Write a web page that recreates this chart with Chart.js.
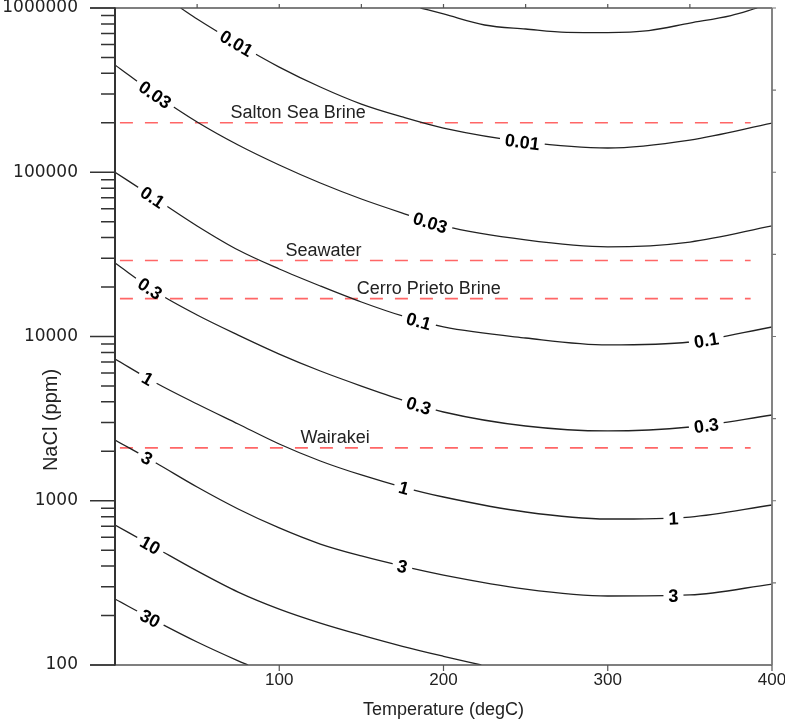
<!DOCTYPE html>
<html><head><meta charset="utf-8">
<script src="https://cdn.jsdelivr.net/npm/chart.js@4.4.1/dist/chart.umd.min.js"></script>
<style>html,body{margin:0;padding:0;background:#fff;overflow:hidden;}</style>
</head><body>
<canvas id="c" width="785" height="721" style="display:block;width:785px;height:721px"></canvas>
<script>
// ---- data ----
const temps = [0, 25, 50, 75, 100, 125, 150, 175, 200, 250, 300, 350, 400];
const temps0003 = [186, 200, 225, 250, 275, 300, 325, 350, 375, 391];
const nacl0003 = [1000000, 920000, 788000, 745000, 711000, 709000, 729000, 810000, 900000, 1000000];
const temps001 = [40, 50, 75, 100, 125, 150, 175, 200, 250, 300, 350, 400];
const nacl001 = [1000000, 857000, 604000, 437000, 330400, 260000, 217000, 185900, 153000, 140500, 157000, 199000];
const nacl003 = [450000, 295300, 202300, 146500, 110700, 86000, 68740, 56470, 47100, 38700, 35100, 37600, 47100];
const nacl01 = [100000, 68740, 47100, 33600, 25760, 20300, 16220, 13330, 11430, 9792, 8880, 9260, 11430];
const nacl03 = [28000, 18660, 13520, 10200, 7820, 6166, 4995, 4105, 3470, 2851, 2660, 2812, 3327];
const nacl1 = [7295, 5212, 3882, 2933, 2216, 1746, 1435, 1212, 1054, 854, 774, 796, 942];
const nacl3 = [2344, 1697, 1212, 891, 683, 545, 461, 400, 353, 290, 263, 267, 311];
const temps10 = [0, 25, 50, 75, 100, 125, 150, 175, 200, 223];
const nacl10 = [712, 516, 374, 278, 219, 180, 152, 130, 113, 100];
const temps30 = [0, 25, 50, 75, 81];
const nacl30 = [252, 185, 138, 106, 100];

// contour label positions (temperature along each curve)
const labelT001 = [74, 248];
const labelT003 = [24.5, 192];
const labelT01 = [23, 185, 360];
const labelT03 = [21.5, 185, 360];
const labelT1 = [20, 176, 340];
const labelT3 = [19.5, 175, 340];
const labelT10 = [21.5];
const labelT30 = [21.5];

// reference salinities (dashed lines)
const refNames = ['Salton Sea Brine', 'Seawater', 'Cerro Prieto Brine', 'Wairakei'];
const refValues = [200000, 29000, 17000, 2100];
const refLabelT = [111.5, 127, 191, 134];
const refLineT = [3, 387];

// axis ticks
const xTickValues = [100, 200, 300, 400];
const xTickLabels = ['100', '200', '300', '400'];
const yTickValues = [100, 1000, 10000, 100000, 1000000];
const yTickLabels = ['100', '1000', '10000', '100000', '1000000'];
const xTitle = 'Temperature (degC)';
const yTitle = 'NaCl (ppm)';

// ---- build datasets ----
const pts = (ts, vs) => ts.map((t, i) => ({ x: t, y: vs[i] }));
function contour(label, ts, vs, lt) {
  return {
    label, data: pts(ts, vs), labelTemps: lt, isContour: true,
    borderColor: '#222', borderWidth: 1.3, pointRadius: 0,
    cubicInterpolationMode: 'monotone', fill: false
  };
}
const datasets = [
  contour('0.003', temps0003, nacl0003, []),
  contour('0.01', temps001, nacl001, labelT001),
  contour('0.03', temps, nacl003, labelT003),
  contour('0.1', temps, nacl01, labelT01),
  contour('0.3', temps, nacl03, labelT03),
  contour('1', temps, nacl1, labelT1),
  contour('3', temps, nacl3, labelT3),
  contour('10', temps10, nacl10, labelT10),
  contour('30', temps30, nacl30, labelT30)
];
refNames.forEach((n, i) => {
  datasets.push({
    label: n, data: refLineT.map(t => ({ x: t, y: refValues[i] })),
    borderColor: 'rgba(255,85,85,0.9)', borderWidth: 1.6, borderDash: [13, 12],
    pointRadius: 0, tension: 0, fill: false, refIndex: i
  });
});

const LABEL_FONT = 'bold 18px "Liberation Sans", Arial, sans-serif';

function pointOnCurve(chart, di, T) {
  const meta = chart.getDatasetMeta(di);
  const p = meta.data;
  const px = chart.scales.x.getPixelForValue(T);
  const bez = (t, a, b, c, d) => { const u = 1 - t; return u*u*u*a + 3*u*u*t*b + 3*u*t*t*c + t*t*t*d; };
  const dbez = (t, a, b, c, d) => { const u = 1 - t; return 3*u*u*(b - a) + 6*u*t*(c - b) + 3*t*t*(d - c); };
  for (let j = 0; j < p.length - 1; j++) {
    const a = p[j], b = p[j + 1];
    if (px >= a.x && px <= b.x) {
      const c1x = a.cp2x ?? a.x, c1y = a.cp2y ?? a.y, c2x = b.cp1x ?? b.x, c2y = b.cp1y ?? b.y;
      let lo = 0, hi = 1;
      for (let k = 0; k < 40; k++) { const m = (lo + hi) / 2; if (bez(m, a.x, c1x, c2x, b.x) < px) lo = m; else hi = m; }
      const t = (lo + hi) / 2;
      return { x: px, y: bez(t, a.y, c1y, c2y, b.y),
        ang: Math.atan2(dbez(t, a.y, c1y, c2y, b.y), dbez(t, a.x, c1x, c2x, b.x)) };
    }
  }
  return null;
}

const contourPlugin = {
  id: 'contourLabels',
  beforeDatasetDraw(chart, args) {
    const ds = chart.data.datasets[args.index];
    if (!ds.labelTemps || !ds.labelTemps.length) return;
    const ctx = chart.ctx;
    ctx.save();
    ctx.font = LABEL_FONT;
    ctx.beginPath();
    ctx.rect(0, 0, chart.width, chart.height);
    ds.labelTemps.forEach(T => {
      const p = pointOnCurve(chart, args.index, T);
      if (!p) return;
      const w = ctx.measureText(ds.label).width + 10, h = 20;
      const c = Math.cos(p.ang), s = Math.sin(p.ang);
      const cs = [[-w/2, -h/2], [w/2, -h/2], [w/2, h/2], [-w/2, h/2]].map(([u, v]) => [p.x + u*c - v*s, p.y + u*s + v*c]);
      ctx.moveTo(cs[0][0], cs[0][1]);
      for (let k = 1; k < 4; k++) ctx.lineTo(cs[k][0], cs[k][1]);
      ctx.closePath();
    });
    ctx.clip('evenodd');
  },
  afterDatasetDraw(chart, args) {
    const ds = chart.data.datasets[args.index];
    if (!ds.labelTemps || !ds.labelTemps.length) return;
    chart.ctx.restore();
  },
  afterDraw(chart) {
    const ctx = chart.ctx, ca = chart.chartArea, xs = chart.scales.x, ys = chart.scales.y;
    // contour labels
    ctx.save();
    ctx.font = LABEL_FONT; ctx.fillStyle = '#000'; ctx.textAlign = 'center'; ctx.textBaseline = 'alphabetic';
    chart.data.datasets.forEach((ds, di) => {
      (ds.labelTemps || []).forEach(T => {
        const p = pointOnCurve(chart, di, T);
        if (!p) return;
        ctx.save(); ctx.translate(p.x, p.y); ctx.rotate(p.ang);
        ctx.fillText(ds.label, 0, 6.5);
        ctx.restore();
      });
    });
    ctx.restore();
    // reference line texts
    ctx.save();
    ctx.font = '18px "Liberation Sans", Arial, sans-serif'; ctx.fillStyle = '#222';
    ctx.textAlign = 'center'; ctx.textBaseline = 'alphabetic';
    refNames.forEach((n, i) => {
      ctx.fillText(n, xs.getPixelForValue(refLabelT[i]), ys.getPixelForValue(refValues[i]) - 5);
    });
    ctx.restore();
    // axes frame & ticks
    ctx.save();
    ctx.lineCap = 'butt';
    ctx.strokeStyle = '#555'; ctx.lineWidth = 1.5;
    ctx.beginPath();
    ctx.moveTo(ca.left - 25, ca.top); ctx.lineTo(ca.right, ca.top);
    ctx.moveTo(ca.left - 25, ca.bottom); ctx.lineTo(ca.right, ca.bottom);
    ctx.stroke();
    ctx.lineWidth = 1.2; ctx.beginPath();
    for (let t = 50; t < 400; t += 50) { const x = xs.getPixelForValue(t); ctx.moveTo(x, ca.top); ctx.lineTo(x, ca.top - 4); }
    ctx.stroke();
    ctx.beginPath();
    xTickValues.forEach(v => { const x = xs.getPixelForValue(v); ctx.moveTo(x, ca.bottom); ctx.lineTo(x, ca.bottom + 6); });
    ctx.stroke();
    ctx.strokeStyle = '#777'; ctx.lineWidth = 1.8; ctx.beginPath();
    ctx.moveTo(ca.right, ca.top); ctx.lineTo(ca.right, ca.bottom); ctx.stroke();
    ctx.lineWidth = 1.2; ctx.beginPath();
    for (let k = 0; k < yTickValues.length - 1; k++) {
      [yTickValues[k] * Math.sqrt(10), yTickValues[k + 1]].forEach(v => {
        const y = ys.getPixelForValue(v); ctx.moveTo(ca.right, y); ctx.lineTo(ca.right + 4, y);
      });
    }
    ctx.stroke();
    ctx.strokeStyle = '#333'; ctx.lineWidth = 2; ctx.beginPath();
    ctx.moveTo(ca.left, ca.top - 0.5); ctx.lineTo(ca.left, ca.bottom + 0.5); ctx.stroke();
    ctx.lineWidth = 1.5; ctx.beginPath();
    yTickValues.forEach(v => { const y = ys.getPixelForValue(v); ctx.moveTo(ca.left - 25, y); ctx.lineTo(ca.left, y); });
    for (let k = 0; k < yTickValues.length - 1; k++) {
      for (let m = 2; m <= 9; m++) {
        const y = ys.getPixelForValue(yTickValues[k] * m); ctx.moveTo(ca.left - 14, y); ctx.lineTo(ca.left, y);
      }
    }
    ctx.stroke();
    ctx.restore();
    // titles
    ctx.save();
    ctx.fillStyle = '#222'; ctx.textAlign = 'center';
    ctx.font = '18px "Liberation Sans", Arial, sans-serif'; ctx.textBaseline = 'alphabetic';
    ctx.fillText(xTitle, (ca.left + ca.right) / 2, 715);
    ctx.font = '20px "Liberation Sans", Arial, sans-serif'; ctx.textBaseline = 'middle';
    ctx.translate(51, 420); ctx.rotate(-Math.PI / 2);
    ctx.fillText(yTitle, 0, 0);
    ctx.restore();
  }
};

const zeroPad = s => { s.paddingLeft = 0; s.paddingRight = 0; s.paddingTop = 0; s.paddingBottom = 0; };

new Chart(document.getElementById('c'), {
  type: 'line',
  data: { datasets },
  options: {
    responsive: false, animation: false, devicePixelRatio: 1,
    layout: { padding: { top: 8, right: 13, bottom: 0, left: 0 } },
    plugins: { legend: { display: false }, tooltip: { enabled: false } },
    scales: {
      x: {
        type: 'linear', min: 0, max: 400,
        afterBuildTicks: s => { s.ticks = xTickValues.map(v => ({ value: v })); },
        afterFit: s => { s.height = 56; zeroPad(s); },
        grid: { display: false, drawTicks: true, tickLength: 5 },
        border: { display: false },
        ticks: {
          autoSkip: false, maxRotation: 0, padding: 0, color: '#222',
          font: { family: '"Liberation Sans", Arial, sans-serif', size: 17 },
          callback: (v, i) => xTickLabels[i]
        }
      },
      y: {
        type: 'logarithmic', min: 100, max: 1000000,
        afterBuildTicks: s => { s.ticks = yTickValues.map(v => ({ value: v })); },
        afterFit: s => { s.width = 115; zeroPad(s); },
        grid: { display: false, drawTicks: true, tickLength: 25 },
        border: { display: false },
        ticks: {
          autoSkip: false, padding: 12, color: '#222',
          font: { family: '"DejaVu Sans", sans-serif', size: 17 },
          callback: (v, i) => yTickLabels[i]
        }
      }
    }
  },
  plugins: [contourPlugin]
});
</script>
</body></html>
